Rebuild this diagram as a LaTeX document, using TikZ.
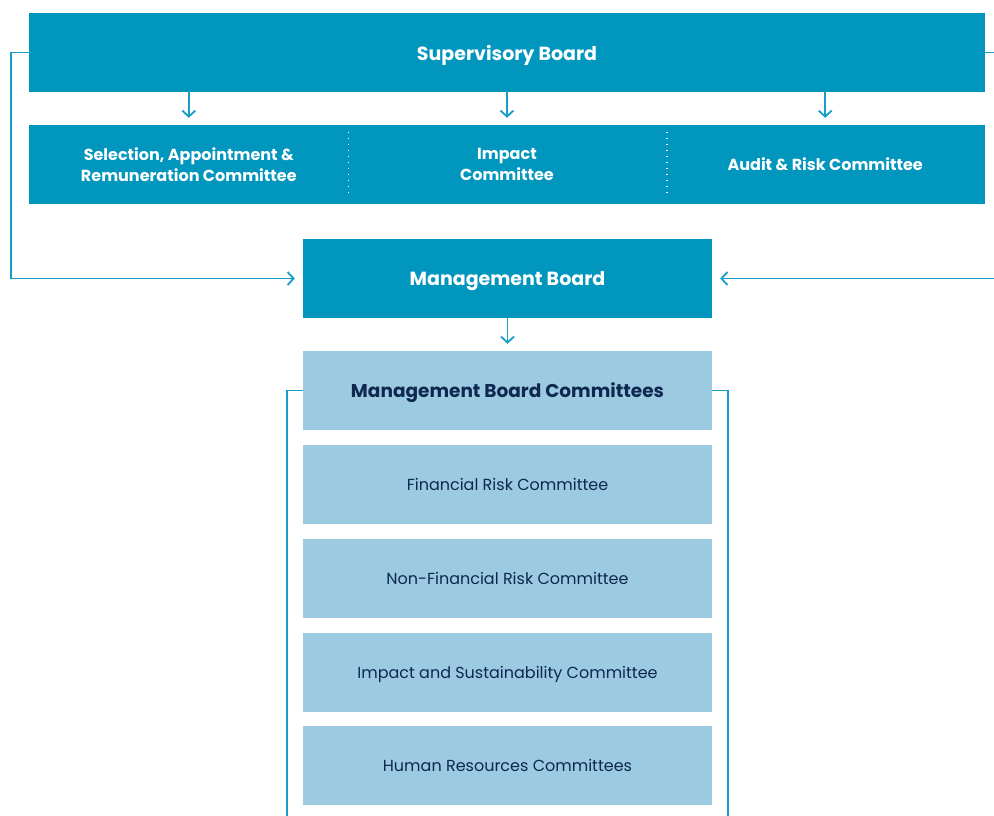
\documentclass[tikz,border=0pt]{standalone}
\usepackage{fontspec}
\setmainfont{Poppins}
\usepackage{xcolor}
\definecolor{boarddark}{RGB}{0,150,190}
\definecolor{boardlight}{RGB}{155,202,225}
\definecolor{linkblue}{RGB}{20,158,200}
\definecolor{navytext}{RGB}{14,40,80}
\usepackage{tikz}
\usetikzlibrary{arrows.meta}
\tikzstyle{board} = [rectangle, fill=boarddark, text=white, font=\bfseries\fontsize{19}{22}\selectfont,
  inner sep=0pt, minimum height=79pt, align=center, text depth=0pt]
\tikzstyle{cmte} = [board, font=\bfseries\fontsize{16}{21}\selectfont, minimum width=319.67pt]
\tikzstyle{sub} = [rectangle, fill=boardlight, text=navytext, font=\fontsize{16}{19}\selectfont,
  inner sep=0pt, minimum width=409pt, minimum height=79pt, text depth=0pt]
\tikzstyle{link} = [draw=linkblue, line width=1.8pt]

\begin{document}
\begin{tikzpicture}[x=1pt, y=-1pt, >={Straight Barb[length=6pt,width=13pt]}]
  \useasboundingbox (0,0) rectangle (994,816);

  \node[board, minimum width=956pt] (sb) at (507, 52.5) {Supervisory Board};
  \node[cmte] (sel) at (188.8, 164.5) {Selection, Appointment \&\\Remuneration Committee};
  \node[cmte] (imp) at (507, 164.5) {Impact\\Committee};
  \node[cmte] (aud) at (825.2, 164.5) {Audit \& Risk Committee};
  \node[board, minimum width=409pt] (mb) at (507.5, 278.5) {Management Board};

  \node[sub, font=\bfseries\fontsize{18.5}{21}\selectfont] (mbc) at (507.5, 390.5) {Management Board Committees};
  \node[sub] (fin) at (507.5, 484.5) {Financial Risk Committee};
  \node[sub] (nfr) at (507.5, 578.5) {Non-Financial Risk Committee};
  \node[sub] (sus) at (507.5, 672) {Impact and Sustainability Committee};
  \node[sub] (hr) at (507.5, 765.5) {Human Resources Committees};

  \coordinate (lft) at (11, 0);
  \coordinate (rgt) at (994, 0);
  \coordinate (bl) at (287, 816);
  \coordinate (br) at (728, 816);

  % dotted dividers
  \draw[white, line width=1.2pt, dash pattern=on 1.2pt off 4.8pt]
    ([yshift=-7pt]sel.north east) -- ([yshift=8pt]sel.south east);
  \draw[white, line width=1.2pt, dash pattern=on 1.2pt off 4.8pt]
    ([yshift=-7pt]imp.north east) -- ([yshift=8pt]imp.south east);

  \path[link,->,shorten >=7pt] (sel.north |- sb.south) -- (sel.north);
  \path[link,->,shorten >=7pt] (imp.north |- sb.south) -- (imp.north);
  \path[link,->,shorten >=7pt] (aud.north |- sb.south) -- (aud.north);
  \path[link,->,shorten >=7pt] (mb.south) -- (mbc.north);

  \path[link,->,shorten >=8pt] (sb.west) -- (sb.west -| lft) |- (mb.west);
  \path[link] (sb.east) -- (sb.east -| rgt);
  \path[link,->,shorten >=8pt] (mb.east -| rgt) -- (mb.east);

  \path[link] (mbc.west) -| (bl);
  \path[link] (mbc.east) -| (br);
\end{tikzpicture}
\end{document}
